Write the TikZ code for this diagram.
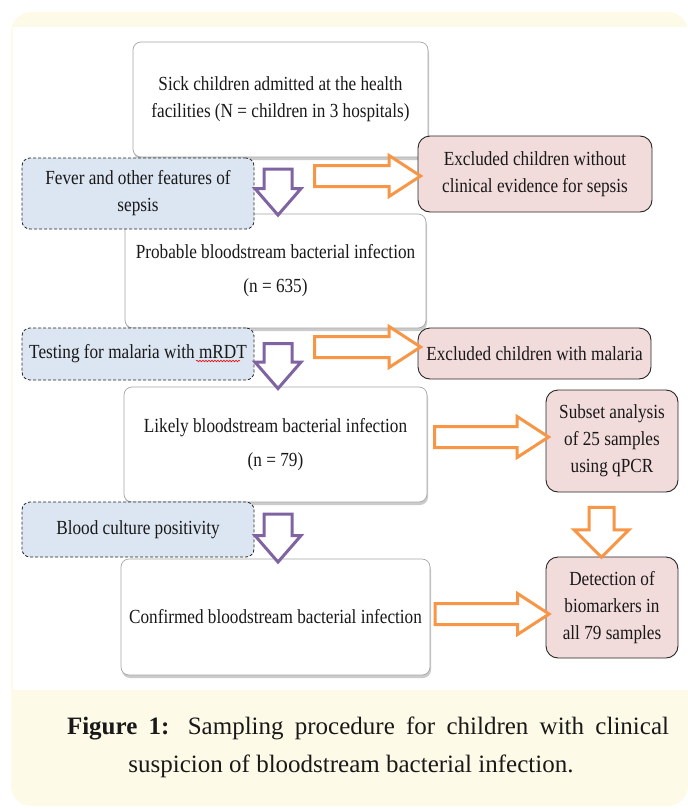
\documentclass[tikz,border=0pt]{standalone}
\usepackage{fontspec}
\setmainfont{Liberation Serif}[FakeStretch=0.86]
\newfontfamily\capfont{Liberation Serif}
\usetikzlibrary{shapes.arrows,shadows,decorations.pathmorphing}
\definecolor{capyellow}{HTML}{FEFAE8}
\definecolor{critblue}{HTML}{DCE6F2}
\definecolor{exclpink}{HTML}{F2DCDB}
\definecolor{arrpurple}{HTML}{8064A2}
\definecolor{arrorange}{HTML}{F79646}
\tikzset{
  boxtext/.style={font=\fontsize{20}{27}\selectfont, text=black!90, align=center, inner sep=0pt},
  mainbox/.style={boxtext, draw=black!35, line width=0.7pt, fill=white, rounded corners=8pt,
    drop shadow={shadow xshift=1pt, shadow yshift=-3pt, fill=black!40, opacity=0.5}},
  critbox/.style={boxtext, draw=black!85, line width=0.8pt, dash pattern=on 3pt off 2pt,
    fill=critblue, rounded corners=8pt},
  exclbox/.style={boxtext, draw=black!85, line width=0.9pt, fill=exclpink, rounded corners=12pt},
  purplearrow/.style={single arrow, draw=arrpurple, line width=3pt, fill=white,
    inner sep=12.5pt, single arrow head extend=9pt, single arrow tip angle=82,
    shape border rotate=270},
  orangearrow/.style={single arrow, draw=arrorange, line width=3pt, fill=white,
    inner sep=9pt, single arrow head extend=10pt, single arrow tip angle=66},
}
\begin{document}
\begin{tikzpicture}[x=1pt, y=-1pt]
        \useasboundingbox (0,0) rectangle (688,809);
        % page panel
        \fill[capyellow, rounded corners=20pt] (11,12) rectangle (688,806);
        \fill[white] (13,27) rectangle (688,690);
        % main column
        \node[mainbox, minimum width=295pt, minimum height=115pt] (m1) at (280.5,99.5)
            {Sick children admitted at the health\\facilities (N = children in 3 hospitals)};
        \node[mainbox, minimum width=301pt, minimum height=114pt] (m2) at (275.5,271)
            {Probable bloodstream bacterial infection\\[7pt](n = 635)};
        \node[mainbox, minimum width=303pt, minimum height=115pt] (m3) at (275.5,444.5)
            {Likely bloodstream bacterial infection\\[7pt](n = 79)};
        \node[mainbox, minimum width=309pt, minimum height=116pt] (m4) at (275.5,617)
            {Confirmed bloodstream bacterial infection};
        % criteria
        \node[critbox, minimum width=232pt, minimum height=71pt] (c1) at (138,193.5)
            {Fever and other features of\\sepsis};
        \node[critbox, minimum width=232pt, minimum height=52pt] (c2) at (138,354)
            {Testing for malaria with mRDT};
        \node[critbox, minimum width=232pt, minimum height=55pt] (c3) at (138,529.5)
            {Blood culture positivity};
        % excluded and analyses
        \node[exclbox, minimum width=234pt, minimum height=76pt] (x1) at (535,174)
            {Excluded children without\\clinical evidence for sepsis};
        \node[exclbox, minimum width=233pt, minimum height=51pt] (x2) at (534.5,353.5)
            {Excluded children with malaria};
        \node[exclbox, minimum width=132pt, minimum height=102pt] (x3) at (612,441)
            {Subset analysis\\of 25 samples\\using qPCR};
        \node[exclbox, minimum width=132pt, minimum height=101pt] (x4) at (612,607.5)
            {Detection of\\biomarkers in\\all 79 samples};
        % spell-check mark
        \draw[red, line width=0.6pt, decorate, decoration={snake, amplitude=0.8pt, segment length=3pt}]
            (196,361) -- (240,361);
        % block arrows
        \node[purplearrow, minimum height=46pt] (p1) at (278,184) {};
        \node[purplearrow, minimum height=45pt] (p2) at (278,358) {};
        \node[purplearrow, minimum height=48pt] (p3) at (278,530) {};
        \node[orangearrow, minimum height=106pt] (o1) at (359.5,176) {};
        \node[orangearrow, minimum height=106pt] (o2) at (359.5,347) {};
        \node[orangearrow, minimum height=114pt] (o3) at (483.5,437) {};
        \node[orangearrow, minimum height=114pt] (o4) at (484,614) {};
        \node[orangearrow, minimum height=50pt, inner sep=11pt, single arrow head extend=15pt,
            single arrow tip angle=90, shape border rotate=270] (o5) at (601.5,526) {};
        % caption
        \node[font=\capfont\fontsize{25}{38}\selectfont, text=black!90, inner sep=0pt] (cap1) at (368,728)
            {\makebox[602pt][s]{\textbf{Figure 1:} Sampling procedure for children with clinical}};
        \node[font=\capfont\fontsize{25}{38}\selectfont, text=black!90, inner sep=0pt] (cap2) at (351,766)
            {suspicion of bloodstream bacterial infection.};
\end{tikzpicture}
\end{document}
